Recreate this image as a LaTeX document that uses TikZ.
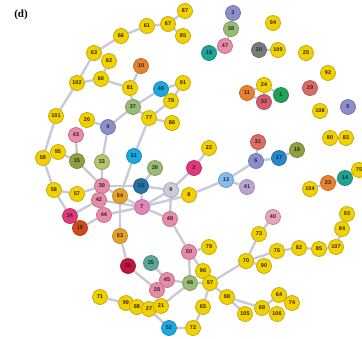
\documentclass[tikz,border=0pt]{standalone}
\usepackage{fontspec}
\setmainfont{Liberation Sans}
\newfontfamily\serifont{Liberation Serif}
\usetikzlibrary{backgrounds}
\definecolor{ye}{HTML}{F2D100}\definecolor{lav}{HTML}{8C8ECB}
\definecolor{grn}{HTML}{98BC72}\definecolor{olv}{HTML}{8FA03E}
\definecolor{lgr}{HTML}{B3C66A}\definecolor{pnk}{HTML}{E98AA6}
\definecolor{pk7}{HTML}{E384B6}\definecolor{rd}{HTML}{DC6A66}
\definecolor{tl}{HTML}{1EA394}\definecolor{tl2}{HTML}{5AA89A}
\definecolor{org}{HTML}{E7812F}\definecolor{amb}{HTML}{E6A126}
\definecolor{cyn}{HTML}{1CA9E1}\definecolor{dbl}{HTML}{2472A4}
\definecolor{blu}{HTML}{2787C9}\definecolor{lbl}{HTML}{86BCEA}
\definecolor{mag}{HTML}{E2377C}\definecolor{crm}{HTML}{C5123F}
\definecolor{ord}{HTML}{D24A1C}\definecolor{gry}{HTML}{7B7B7B}
\definecolor{lgy}{HTML}{CACAD8}\definecolor{lil}{HTML}{BBA3D3}
\definecolor{lpk}{HTML}{E9A3BD}\definecolor{dgn}{HTML}{1FA352}
\definecolor{prd}{HTML}{D65C70}\definecolor{edg}{HTML}{C8CADC}
\tikzset{
 nd/.style={circle,minimum size=15pt,inner sep=0pt,line width=0.7pt,
   font=\fontsize{5.5}{5.5}\selectfont\bfseries,text=black!85},
 c/.style={nd,fill=#1,draw=#1!80!black},
 Y/.style={c=ye}, L/.style={c=lav}, G/.style={c=grn}, P/.style={c=pnk},
 lk/.style={draw=edg,line width=2.4pt}
}
\begin{document}
\begin{tikzpicture}[x=1pt,y=-1pt]
\useasboundingbox (0,0) rectangle (362,338);
\node[font=\serifont\bfseries\fontsize{11}{11}\selectfont] (lab) at (21,15) {(d)};
% upper arc
\node[Y] (n87) at (185,11) {87};
\node[Y] (n67) at (168,24) {67};
\node[Y] (n85a) at (183,36) {85};
\node[Y] (n61) at (147,26) {61};
\node[Y] (n66) at (121,36) {66};
\node[Y] (n63) at (94,53) {63};
\node[Y] (n62) at (109,61) {62};
\node[Y] (n60) at (101,79) {60};
\node[Y] (n102) at (77,83) {102};
\node[c=org] (n10) at (141,66) {10};
\node[Y] (n81) at (130,88) {81};
\node[c=cyn] (n49) at (161,89) {49};
\node[Y] (n91) at (183,83) {91};
\node[Y] (n78) at (171,101) {78};
\node[G] (n37) at (133,107) {37};
\node[Y] (n77) at (149,118) {77};
\node[Y] (n86) at (172,123) {86};
% top right clusters
\node[L] (n3) at (233,13) {3};
\node[G] (n38) at (231,29) {38};
\node[P] (n47) at (225,46) {47};
\node[c=tl] (n19) at (209,53) {19};
\node[Y] (n94) at (273,23) {94};
\node[c=gry] (n20) at (259,50) {20};
\node[Y] (n100) at (278,50) {100};
\node[Y] (n25) at (306,53) {25};
\node[Y] (n92) at (328,73) {92};
\node[Y] (n24) at (264,85) {24};
\node[c=org] (n11) at (247,93) {11};
\node[c=dgn] (n1) at (281,95) {1};
\node[c=prd] (n32) at (264,102) {32};
\node[c=rd] (n29) at (310,88) {29};
\node[Y] (n108) at (320,111) {108};
\node[L] (n5) at (348,107) {5};
% left
\node[Y] (n101) at (56,116) {101};
\node[Y] (n26) at (87,120) {26};
\node[L] (n4) at (108,127) {4};
\node[P] (n43) at (76,135) {43};
\node[Y] (n59) at (43,158) {59};
\node[Y] (n95) at (58,152) {95};
\node[c=olv] (n15) at (77,161) {15};
\node[c=lgr] (n33) at (102,162) {33};
\node[c=cyn] (n51) at (134,156) {51};
\node[G] (n39) at (155,168) {39};
\node[c=mag] (n2) at (194,168) {2};
\node[Y] (n22) at (209,148) {22};
\node[P] (n30) at (102,186) {30};
\node[Y] (n58) at (54,190) {58};
\node[Y] (n57) at (77,194) {57};
\node[P] (n42) at (99,200) {42};
\node[c=amb] (n54) at (120,196) {54};
\node[c=dbl] (n12) at (141,186) {12};
\node[c=lgy] (n9) at (171,190) {9};
\node[Y] (n8) at (189,195) {8};
\node[c=lbl] (n13) at (226,180) {13};
\node[c=lil] (n41) at (247,187) {41};
\node[L] (n6) at (256,161) {6};
\node[c=rd] (n31) at (258,142) {31};
\node[c=blu] (n17) at (279,158) {17};
\node[c=olv] (n16) at (297,150) {16};
\node[Y] (n80) at (330,138) {80};
\node[Y] (n83) at (346,138) {83};
\node[Y] (n75) at (359,170) {75};
\node[c=tl] (n14) at (345,178) {14};
\node[c=org] (n23) at (328,183) {23};
\node[Y] (n104) at (310,189) {104};
\node[c=pk7] (n7) at (142,207) {7};
\node[P] (n48) at (170,219) {48};
\node[c=mag] (n34) at (70,216) {34};
\node[P] (n44) at (104,215) {44};
\node[c=ord] (n18) at (80,228) {18};
\node[c=amb] (n53) at (120,236) {53};
% lower right
\node[c=lpk] (n40) at (273,217) {40};
\node[Y] (n93) at (347,214) {93};
\node[Y] (n84) at (342,229) {84};
\node[Y] (n107) at (336,247) {107};
\node[Y] (n73) at (259,234) {73};
\node[Y] (n76) at (277,251) {76};
\node[Y] (n82) at (299,248) {82};
\node[Y] (n85b) at (319,249) {85};
\node[Y] (n70) at (246,261) {70};
\node[Y] (n90) at (264,266) {90};
\node[P] (n50) at (189,252) {50};
\node[Y] (n79) at (209,247) {79};
\node[c=crm] (n36) at (128,266) {36};
\node[c=tl2] (n35) at (151,263) {35};
\node[Y] (n96) at (203,271) {96};
\node[Y] (n97) at (210,283) {97};
\node[P] (n45) at (167,280) {45};
\node[G] (n46) at (190,283) {46};
\node[P] (n28) at (157,290) {28};
\node[Y] (n98) at (227,297) {98};
\node[Y] (n64) at (279,295) {64};
\node[Y] (n74) at (292,303) {74};
\node[Y] (n68) at (262,308) {68};
\node[Y] (n106) at (277,314) {106};
\node[Y] (n105) at (245,314) {105};
\node[Y] (n71) at (100,297) {71};
\node[Y] (n99) at (126,303) {99};
\node[Y] (n88) at (137,307) {88};
\node[Y] (n27) at (149,309) {27};
\node[Y] (n21) at (161,306) {21};
\node[Y] (n65) at (203,307) {65};
\node[c=cyn] (n52) at (169,328) {52};
\node[Y] (n72) at (193,328) {72};
\begin{scope}[on background layer]
\foreach \a/\b in {87/67,67/85a,67/61,61/66,66/63,63/102,62/60,102/60,60/81,81/10,81/37,
 37/49,49/91,91/78,78/77,37/77,77/86,77/51,37/4,4/26,4/33,102/101,101/59,59/95,59/58,
 95/15,43/15,15/30,33/30,58/57,57/30,58/34,30/42,30/12,30/54,42/44,42/34,42/7,44/7,44/18,
 51/54,54/7,54/53,53/36,12/7,12/39,12/9,7/9,7/48,7/8,9/48,9/2,2/22,8/13,13/6,13/41,
 6/31,6/17,17/16,3/38,38/47,47/19,20/100,24/11,24/32,24/1,11/32,80/83,104/23,23/14,14/75,
 48/50,50/79,50/96,50/46,96/97,46/97,46/45,45/35,45/28,36/28,28/21,21/46,21/27,27/88,
 88/99,99/71,27/52,52/72,72/65,65/97,97/70,70/73,73/40,70/90,70/76,76/82,82/85b,85b/107,
 107/84,84/93,97/98,98/105,98/68,68/64,68/106,64/74}
 \draw[lk] (n\a) -- (n\b);
\end{scope}
\end{tikzpicture}
\end{document}
